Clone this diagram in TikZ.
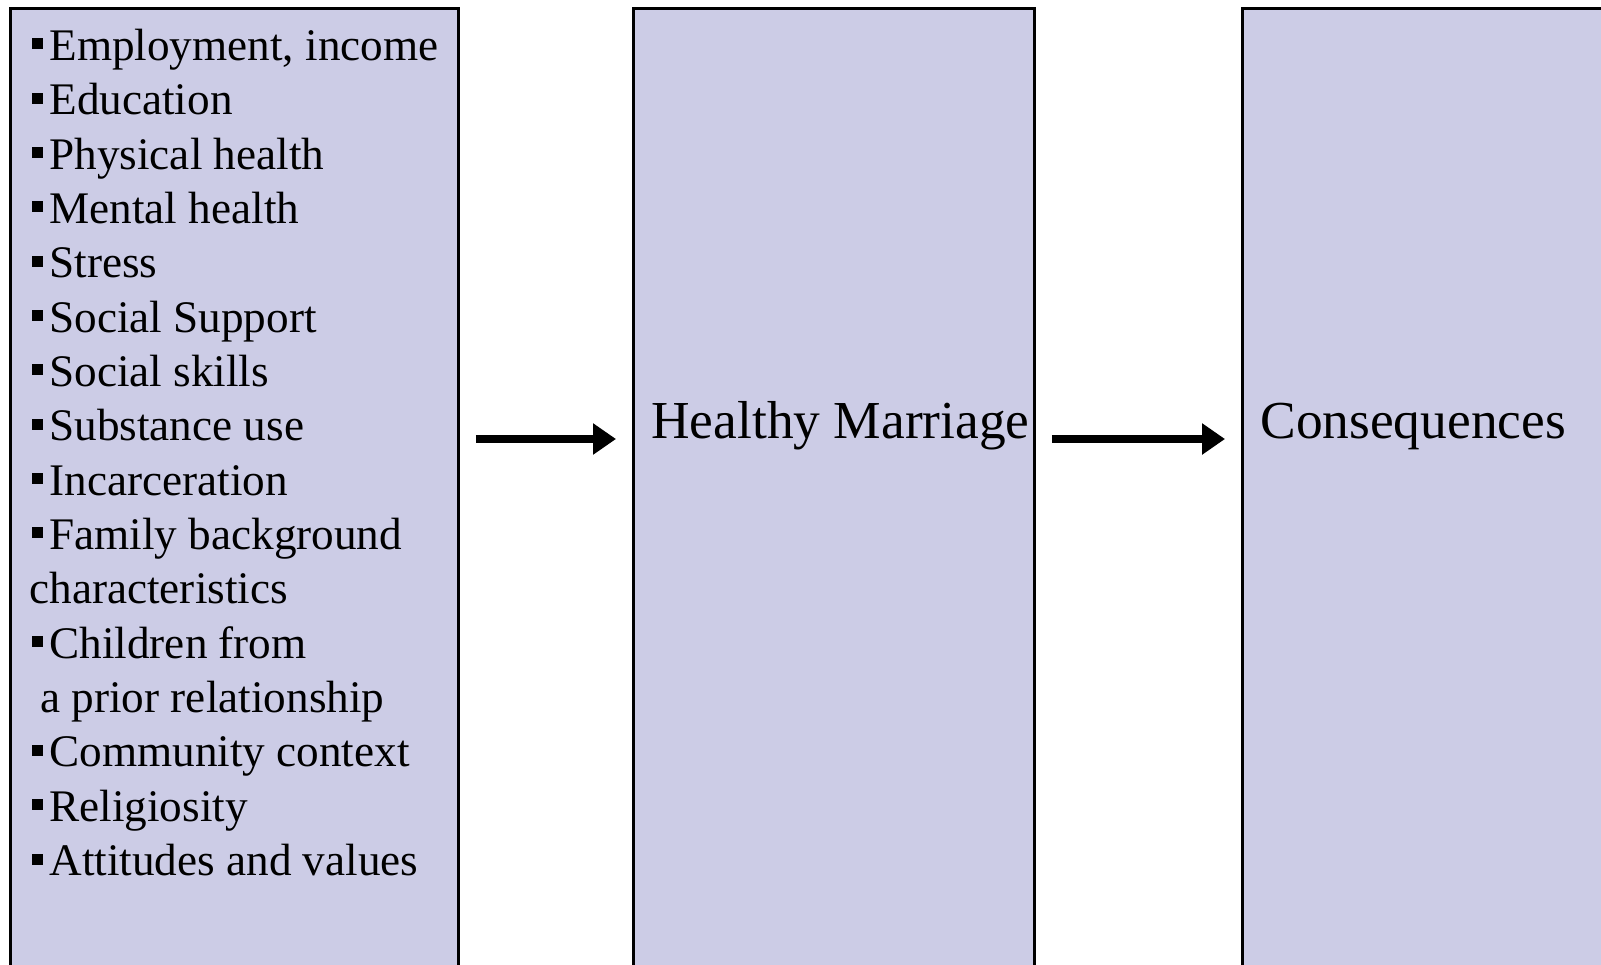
\documentclass[tikz,border=0pt]{standalone}
\usepackage{fontspec}
\setmainfont{Liberation Serif}
\usepackage{xcolor}
\usetikzlibrary{arrows.meta}
\definecolor{panel-fill}{HTML}{CCCCE6}
\definecolor{jet}{HTML}{000000}
\newcommand{\sqitem}{\kern1.5pt\rule[5.5pt]{5.5pt}{5.5pt}\kern3pt}

\begin{document}
\begin{tikzpicture}[x=0.5pt, y=-0.5pt,
    panel/.style={draw=jet, line width=1.4pt, fill=panel-fill, anchor=north west,
      inner sep=0pt},
    flow/.style={-{Triangle[length=11.5pt, width=15pt]}, line width=4pt, color=jet,
      shorten <=8pt, shorten >=8pt},
    every node/.style={text=jet}]
    \useasboundingbox (0, 0) rectangle (1601, 964);
    \clip (0, 0) rectangle (1601, 964);
    \node[panel, minimum width=224pt, minimum height=497pt] (factors) at (9, 7) {};
    \node[panel, minimum width=200.5pt, minimum height=497pt] (marriage) at (632, 7) {};
    \node[panel, minimum width=210pt, minimum height=497pt] (conseq) at (1241, 7) {};
    % base of a multi-line node is its last line
    \node[anchor=base west, inner sep=0pt, align=left,
      font=\fontsize{22.6}{27.17}\selectfont] (list) at (29, 875.5)
      {\sqitem Employment, income\\
       \sqitem Education\\
       \sqitem Physical health\\
       \sqitem Mental health\\
       \sqitem Stress\\
       \sqitem Social Support\\
       \sqitem Social skills\\
       \sqitem Substance use\\
       \sqitem Incarceration\\
       \sqitem Family background\\
       characteristics\\
       \sqitem Children from\\
       \hspace*{5.5pt}a prior relationship\\
       \sqitem Community context\\
       \sqitem Religiosity\\
       \sqitem Attitudes and values};
    \node[anchor=base west, inner sep=0pt, font=\fontsize{26.7}{31}\selectfont]
      (hm) at (651, 438) {Healthy Marriage};
    \node[anchor=base west, inner sep=0pt, font=\fontsize{26.7}{31}\selectfont]
      (cq) at (1260, 438) {Consequences};
    \coordinate (level) at (0, 439);
    \draw[flow] (factors.east |- level) -- (marriage.west |- level);
    \draw[flow] (marriage.east |- level) -- (conseq.west |- level);
  \end{tikzpicture}
\end{document}
